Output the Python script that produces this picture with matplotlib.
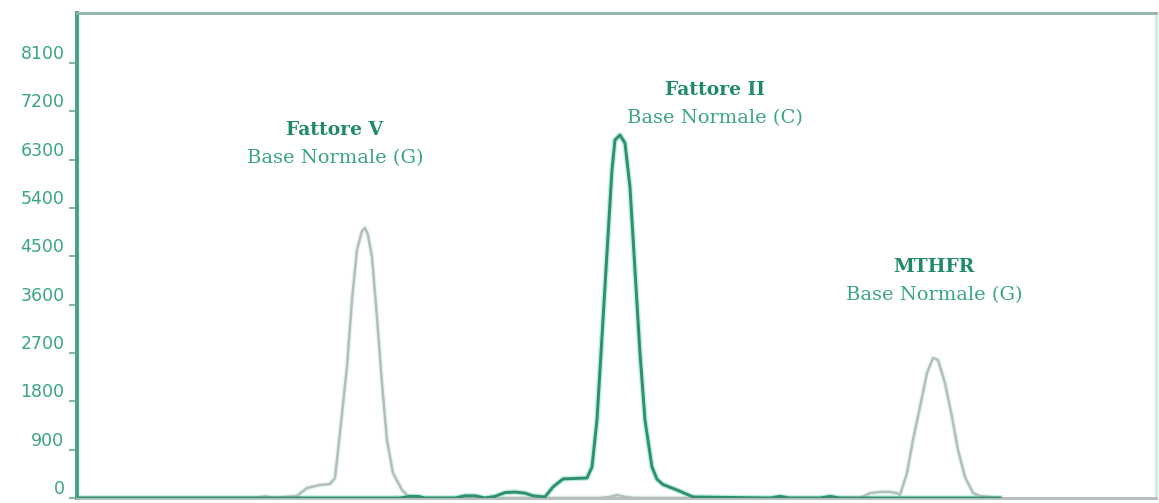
import matplotlib
matplotlib.use("Agg")
import matplotlib.pyplot as plt

# scan positions (arbitrary units) and signal intensity
grey_pos = [0, 178, 188, 198, 220, 230, 243, 253, 258, 263, 270, 275, 280, 285, 288, 291,
            295, 300, 305, 310, 316, 325, 330, 338, 523, 533, 540, 548, 558, 783, 793, 803,
            813, 820, 823, 830, 836, 843, 850, 856, 861, 868, 875, 881, 888, 896, 903, 923]
grey_val = [0, 0, 30, 0, 37, 186, 242, 260, 372, 1210, 2440, 3690, 4620, 4970, 5030, 4900,
            4490, 3370, 2140, 1080, 465, 150, 56, 0, 0, 20, 55, 20, 0, 0, 90, 112,
            112, 90, 56, 465, 1080, 1694, 2327, 2607, 2570, 2141, 1508, 894, 391, 93, 37, 0]

green_pos = [0, 323, 333, 341, 348, 363, 378, 388, 398, 408, 418, 428, 438, 448, 456, 468,
             476, 486, 510, 515, 520, 525, 530, 535, 538, 543, 548, 553, 558, 563, 568, 575,
             580, 586, 600, 616, 693, 703, 713, 743, 753, 763, 923]
green_val = [0, 0, 30, 30, 0, 0, 0, 40, 40, 0, 30, 100, 110, 90, 40, 19,
             205, 354, 372, 577, 1452, 2998, 4562, 6107, 6666, 6759, 6610, 5791, 4245, 2700, 1452, 577,
             350, 250, 149, 19, 0, 30, 0, 0, 30, 0, 0]

yticks = [0, 900, 1800, 2700, 3600, 4500, 5400, 6300, 7200, 8100]
ytick_labels = ["0", "900", "1800", "2700", "3600", "4500", "5400", "6300", "7200", "8100"]

peak_titles = ["Fattore V", "Fattore II", "MTHFR"]
peak_subs = ["Base Normale (G)", "Base Normale (C)", "Base Normale (G)"]
peak_label_pos = [(258, 6850), (638, 7600), (857, 4300)]

dark_green = "#1f8a66"
mid_green = "#3aa582"
grey = "#b3bfb8"

fig = plt.figure(figsize=(11.59, 5.03), dpi=100)
ax = fig.add_axes([0.0664, 0.01, 0.931, 0.964])
ax.set_xlim(0, 1079)
ax.set_ylim(0, 9030)

# faint halo under the traces, then the traces themselves
ax.plot(grey_pos, grey_val, color="#e6f7f1", lw=3.5, solid_joinstyle="round", zorder=1)
ax.plot(green_pos, green_val, color="#c0eee0", lw=4, solid_joinstyle="round", zorder=1)
ax.plot(grey_pos, grey_val, color=grey, lw=1.8, solid_joinstyle="round", zorder=2)
ax.plot(green_pos, green_val, color="#2f8f6f", lw=2.1, solid_joinstyle="round", zorder=3)

for (px, py), title, sub in zip(peak_label_pos, peak_titles, peak_subs):
    ax.text(px, py, title, ha="center", va="center", family="DejaVu Serif",
            fontweight="bold", fontsize=13.5, color=dark_green)
    ax.text(px, py - 520, sub, ha="center", va="center", family="DejaVu Serif",
            fontsize=14, color=mid_green)

ax.set_xticks([])
ax.set_yticks(yticks)
ax.set_yticklabels(ytick_labels, fontsize=12.5, color=mid_green)
for lab in ax.get_yticklabels():
    lab.set_verticalalignment("bottom")
ax.tick_params(axis="y", length=6, width=1.5, color="#8fb3a4", pad=3)

ax.spines["left"].set_color("#3da585")
ax.spines["left"].set_linewidth(2.8)
ax.spines["top"].set_color("#8db7a6")
ax.spines["top"].set_linewidth(2)
ax.spines["right"].set_color("#c4efe4")
ax.spines["right"].set_linewidth(2)
ax.spines["bottom"].set_color("#b4bcb8")
ax.spines["bottom"].set_linewidth(2)

fig.savefig("out.png", dpi=100)
